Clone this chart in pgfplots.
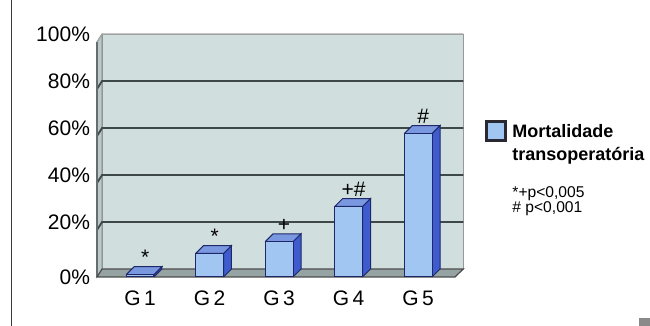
\documentclass[border=0pt]{standalone}
\usepackage{pgfplots}
\pgfplotsset{compat=1.18}
\usepackage{pgfplotstable}
\usepackage{fontspec}
\setmainfont{Liberation Sans}

\definecolor{wall}{RGB}{208,222,222}
\definecolor{wallside}{RGB}{186,200,200}
\definecolor{floorc}{RGB}{150,163,163}
\definecolor{gridc}{RGB}{62,72,72}
\definecolor{barfront}{RGB}{162,198,242}
\definecolor{barside}{RGB}{62,92,205}
\definecolor{bartop}{RGB}{122,152,224}
\definecolor{baredge}{RGB}{30,40,105}
\definecolor{legedge}{RGB}{40,40,48}
\definecolor{frameline}{RGB}{60,60,60}
\definecolor{cornersq}{RGB}{138,138,138}

\pgfplotstableread{
x y lab
0 1 *
1 10 *
2 15 +
3 30 +\#
4 61 \#
}\bars

\newcommand\hw{0.2}
\newcommand\dx{0.115}
\newcommand\dy{3.4}

\begin{document}
\begin{tikzpicture}
\useasboundingbox (0,0) rectangle (325pt,163pt);
\draw[line width=0.5pt, frameline] (6pt,0) -- (6pt,163pt);
\fill[cornersq] (319.5pt,0) rectangle (325pt,4pt);
\begin{axis}[
  at={(48.5pt,24.5pt)}, anchor=south west,
  scale only axis, width=183.5pt, height=122.2pt,
  xmin=-0.62, xmax=4.66, ymin=0, ymax=104,
  clip=false,
  axis line style={draw=none}, major tick style={draw=none},
  xtick={0,...,4}, xticklabels={G\,1,G\,2,G\,3,G\,4,G\,5},
  ytick={0,23.4,43.4,63.4,83.4,103.4},
  yticklabels={0\%,20\%,40\%,60\%,80\%,100\%},
  tick label style={font=\fontsize{10.5}{12}\selectfont},
  xticklabel style={yshift=-3.5pt},
  legend style={draw=none, fill=none, at={(axis description cs:1.057,0.652)},
    anchor=north west, inner sep=0pt, outer sep=0pt,
    font=\fontsize{9}{11.5}\selectfont\bfseries,
    cells={anchor=base west},
    /tikz/every odd column/.style={column sep=0.75pt}},
  legend image code/.code={\draw[line width=1.5pt, draw=legedge, fill=barfront] (0.75pt,-1.4pt) rectangle (10.25pt,8.1pt);},
]
% back wall
\filldraw[fill=wall, draw=gray!80] (axis cs:-0.547,3.4) rectangle (axis cs:4.65,103.4);
% left wall
\filldraw[fill=wallside, draw=gray] (axis cs:-0.62,0) -- (axis cs:-0.547,3.4) -- (axis cs:-0.547,103.4) -- (axis cs:-0.62,100) -- cycle;
% gridlines
\draw[gridc, line width=0.9pt] (axis cs:-0.62,20) -- (axis cs:-0.547,23.4) -- (axis cs:4.65,23.4);
\draw[gridc, line width=0.9pt] (axis cs:-0.62,40) -- (axis cs:-0.547,43.4) -- (axis cs:4.65,43.4);
\draw[gridc, line width=0.9pt] (axis cs:-0.62,60) -- (axis cs:-0.547,63.4) -- (axis cs:4.65,63.4);
\draw[gridc, line width=0.9pt] (axis cs:-0.62,80) -- (axis cs:-0.547,83.4) -- (axis cs:4.65,83.4);
\draw[gray!70, line width=0.6pt] (axis cs:-0.62,100) -- (axis cs:-0.547,103.4) -- (axis cs:4.65,103.4);
\draw[gridc!80, line width=1pt] (axis cs:-0.62,0) -- (axis cs:-0.62,100);
% floor
\filldraw[fill=floorc, draw=gray!60!black, line width=0.6pt] (axis cs:-0.62,0) -- (axis cs:4.53,0) -- (axis cs:4.65,3.4) -- (axis cs:-0.547,3.4) -- cycle;
% 3D faces of bars
\pgfplotsforeachungrouped \i in {0,1,2,3,4}{%
  \pgfplotstablegetelem{\i}{y}\of\bars
  \let\v\pgfplotsretval
  \pgfmathsetmacro\xa{\i-\hw}%
  \pgfmathsetmacro\xb{\i+\hw}%
  \pgfmathsetmacro\xc{\i+\hw+\dx}%
  \pgfmathsetmacro\xd{\i-\hw+\dx}%
  \pgfmathsetmacro\vt{\v+\dy}%
  \edef\temp{\noexpand\addplot[forget plot, fill=barside, draw=baredge, line width=0.5pt] coordinates {(\xb,0) (\xc,\dy) (\xc,\vt) (\xb,\v) (\xb,0)};
    \noexpand\addplot[forget plot, fill=bartop, draw=baredge, line width=0.5pt] coordinates {(\xa,\v) (\xd,\vt) (\xc,\vt) (\xb,\v) (\xa,\v)};}%
  \temp
}
% front faces
\addplot[ybar, bar width=0.4, fill=barfront, draw=baredge, line width=0.5pt,
  nodes near coords, point meta=explicit symbolic,
  nodes near coords style={anchor=base, xshift=2.5pt, yshift=5pt, font=\fontsize{10.5}{12}\selectfont, inner sep=0pt}]
  table[x=x, y=y, meta=lab] {\bars};
\addlegendentry{\begin{tabular}[t]{@{}l@{}}Mortalidade\\transoperatória\end{tabular}}
\node[anchor=base west, font=\fontsize{7.8}{9}\selectfont, inner sep=0pt] at (axis description cs:1.131,0.325) {*+p<0,005};
\node[anchor=base west, font=\fontsize{7.8}{9}\selectfont, inner sep=0pt] at (axis description cs:1.131,0.262) {\# p<0,001};
\end{axis}
\end{tikzpicture}
\end{document}
